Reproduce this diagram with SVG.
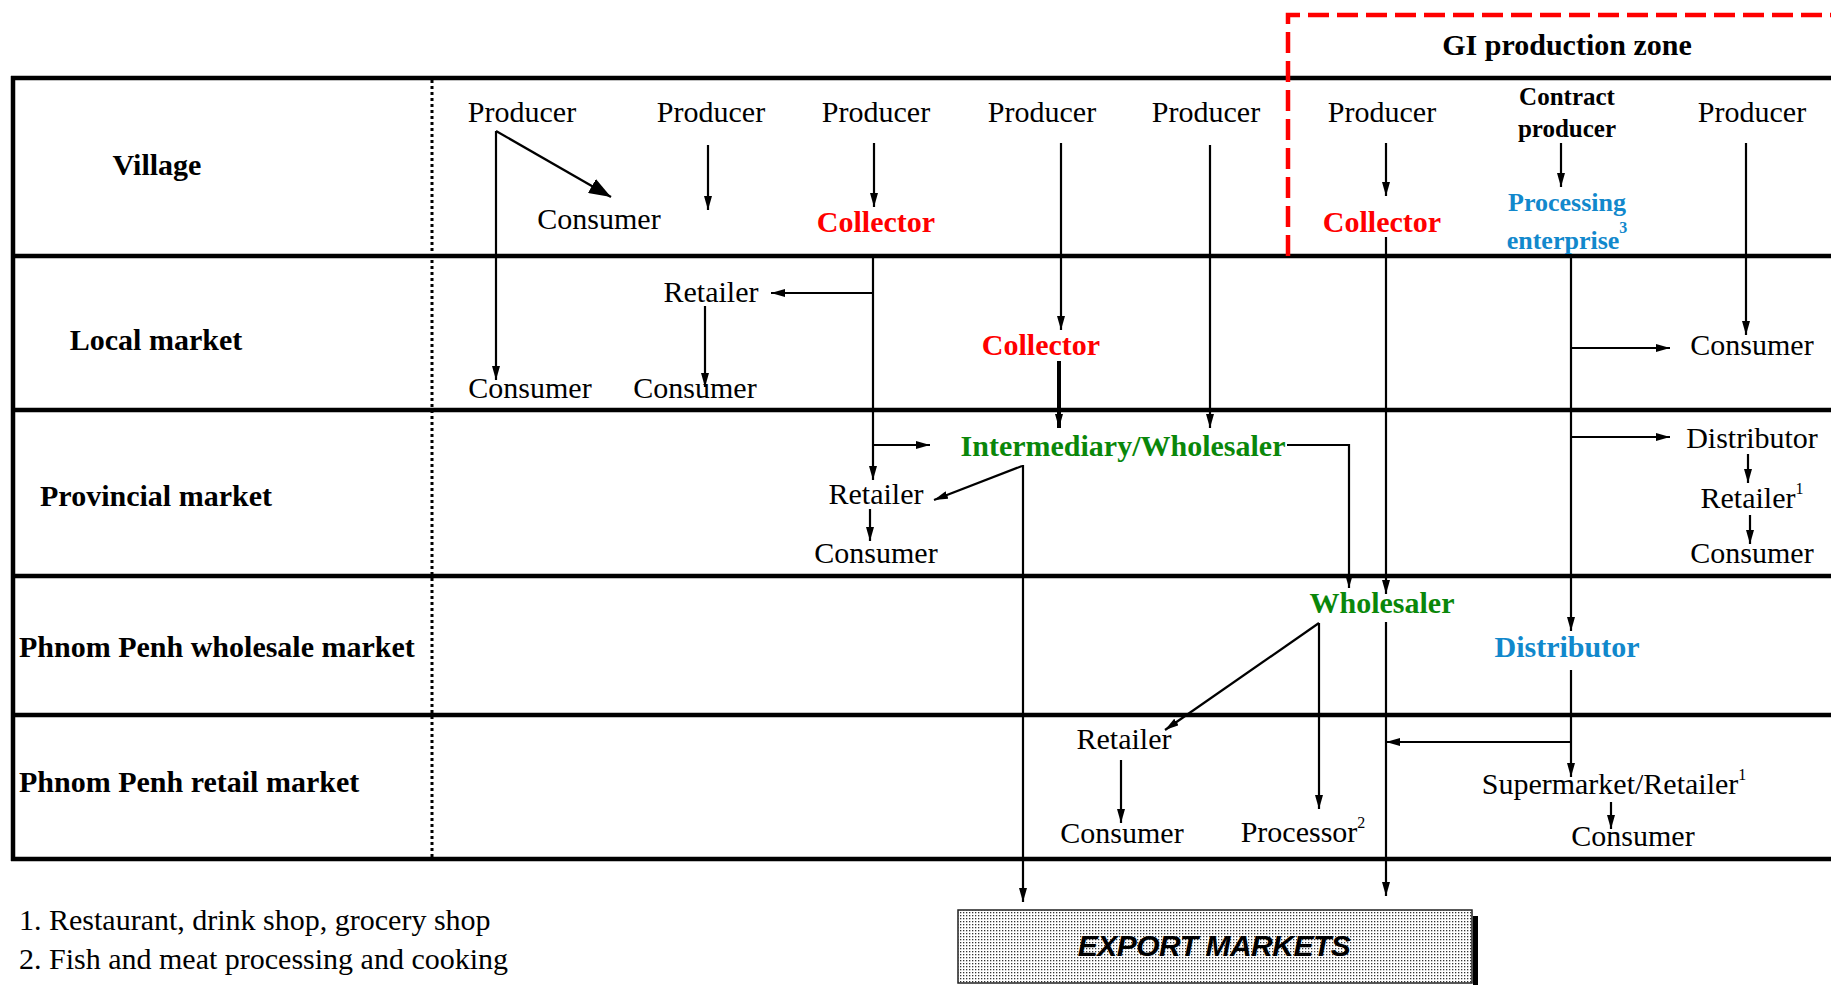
<svg xmlns="http://www.w3.org/2000/svg" width="1831" height="985" viewBox="0 0 1831 985">
<style>
text{font-family:"Liberation Serif","Times New Roman",serif;font-size:30px;fill:#000;text-anchor:middle}
.b{font-weight:bold}
.row{font-weight:bold;text-anchor:start}
.red{font-weight:bold;fill:#ff0000}
.grn{font-weight:bold;fill:#0a870a}
.blu{font-weight:bold;fill:#1188cc}
.sup{font-size:16px}
.frame{stroke:#000;stroke-width:4.5;fill:none}
.c{stroke:#000;stroke-width:2.2;fill:none}
.ca{stroke:#000;stroke-width:2.2;fill:none;marker-end:url(#ah)}
</style>
<defs>
<marker id="ah" markerUnits="userSpaceOnUse" markerWidth="14" markerHeight="8" refX="14" refY="4" orient="auto"><path d="M0,0 L14,4 L0,8 z" fill="#000"/></marker>
<marker id="big" markerUnits="userSpaceOnUse" markerWidth="22" markerHeight="16" refX="22" refY="8" orient="auto"><path d="M0,0 L22,8 L0,16 z" fill="#000"/></marker>
<pattern id="dots" width="3" height="3" patternUnits="userSpaceOnUse"><rect width="3" height="3" fill="#fff"/><rect width="1.3" height="1.3" fill="#333"/></pattern>
</defs>
<rect width="1831" height="985" fill="#fff"/>
<g id="frame">
<path class="frame" d="M11,78 H1831 M11,256 H1831 M11,410 H1831 M11,576 H1831 M11,715 H1831 M11,859 H1831 M13,76 V861"/>
<path d="M432,80 V857" stroke="#000" stroke-width="3" stroke-dasharray="3 3"/>
<path d="M1288,256 V15 H1831" stroke="#ff0000" stroke-width="4.5" fill="none" stroke-dasharray="21 8"/>
<text class="b" x="1567" y="55">GI production zone</text>
</g>
<g id="row-labels">
<text id="lbl-village" class="b" x="157" y="175">Village</text>
<text id="lbl-local" class="b" x="156" y="350">Local market</text>
<text id="lbl-prov" class="b" x="156" y="506">Provincial market</text>
<text id="lbl-ppw" class="row" x="19" y="657">Phnom Penh wholesale market</text>
<text id="lbl-ppr" class="row" x="19" y="792">Phnom Penh retail market</text>
</g>
<g id="connectors">
<path d="M496,131 L611,197" class="c" marker-end="url(#big)"/>
<path d="M496,131 V380" class="ca"/>
<path d="M708,145 V210" class="ca"/>
<path d="M874,143 V207" class="ca"/>
<path d="M1061,143 V330" class="ca"/>
<path d="M1210,145 V428" class="ca"/>
<path d="M1386,143 V196" class="ca"/>
<path d="M1561,143 V187" class="ca"/>
<path d="M1746,143 V335" class="ca"/>
<path d="M873,256 V480" class="ca"/>
<path d="M873,293 H771" class="ca"/>
<path d="M873,445 H930" class="ca"/>
<path d="M705,306 V387" class="ca"/>
<path d="M1059,361 V428" stroke="#000" stroke-width="4" fill="none" marker-end="url(#ah)"/>
<path d="M1386,237 V594" class="ca"/>
<path d="M1386,622 V896" class="ca"/>
<path d="M1571,258 V631" class="ca"/>
<path d="M1571,348 H1670" class="ca"/>
<path d="M1571,437 H1670" class="ca"/>
<path d="M1571,670 V777" class="ca"/>
<path d="M1571,742 H1386" class="ca"/>
<path d="M1611,802 V829" class="ca"/>
<path d="M1748,454 V483" class="ca"/>
<path d="M1750,515 V544" class="ca"/>
<path d="M1287,445 H1349 V588" class="ca"/>
<path d="M1022,466 L934,500" class="ca"/>
<path d="M1023,465 V902" class="ca"/>
<path d="M870,509 V541" class="ca"/>
<path d="M1319,623 L1165,730" class="ca"/>
<path d="M1319,623 V809" class="ca"/>
<path d="M1121,760 V823" class="ca"/>
</g>
<g id="village-nodes">
<text id="producer-1" x="522" y="122">Producer</text>
<text id="producer-2" x="711" y="122">Producer</text>
<text id="producer-3" x="876" y="122">Producer</text>
<text id="producer-4" x="1042" y="122">Producer</text>
<text id="producer-5" x="1206" y="122">Producer</text>
<text id="producer-6" x="1382" y="122">Producer</text>
<g id="contract-producer"><text class="b" x="1567" y="105" font-size="25" style="font-size:25px">Contract</text><text class="b" x="1567" y="137" style="font-size:25px">producer</text></g>
<text id="producer-8" x="1752" y="122">Producer</text>
<text id="consumer-v" x="599" y="229">Consumer</text>
<text id="collector-v1" class="red" x="876" y="232">Collector</text>
<text id="collector-v2" class="red" x="1382" y="232">Collector</text>
<g id="processing-enterprise"><text class="blu" x="1567" y="211" style="font-size:26px">Processing</text><text class="blu" x="1567" y="249" style="font-size:26px">enterprise<tspan class="sup" dy="-16">3</tspan></text></g>
</g>
<g id="local-nodes">
<text id="retailer-l" x="711" y="302">Retailer</text>
<text id="consumer-l1" x="530" y="398">Consumer</text>
<text id="consumer-l2" x="695" y="398">Consumer</text>
<text id="collector-l" class="red" x="1041" y="355">Collector</text>
<text id="consumer-l3" x="1752" y="355">Consumer</text>
</g>
<g id="provincial-nodes">
<text id="intermediary" class="grn" x="1123" y="456">Intermediary/Wholesaler</text>
<text id="retailer-p" x="876" y="504">Retailer</text>
<text id="consumer-p" x="876" y="563">Consumer</text>
<text id="distributor-p" x="1752" y="448">Distributor</text>
<text id="retailer-p2" x="1752" y="508">Retailer<tspan class="sup" dy="-14">1</tspan></text>
<text id="consumer-p2" x="1752" y="563">Consumer</text>
</g>
<g id="wholesale-nodes">
<text id="wholesaler" class="grn" x="1382" y="613">Wholesaler</text>
<text id="distributor-w" class="blu" x="1567" y="657">Distributor</text>
</g>
<g id="retail-nodes">
<text id="retailer-r" x="1124" y="749">Retailer</text>
<text id="consumer-r" x="1122" y="843">Consumer</text>
<text id="processor" x="1303" y="842">Processor<tspan class="sup" dy="-14">2</tspan></text>
<text id="supermarket" x="1614" y="794">Supermarket/Retailer<tspan class="sup" dy="-14">1</tspan></text>
<text id="consumer-r2" x="1633" y="846">Consumer</text>
</g>
<g id="export-markets">
<rect x="1473" y="916" width="5" height="69" fill="#000"/>
<rect x="958" y="910" width="514" height="73" fill="url(#dots)" stroke="#222" stroke-width="1.5"/>
<text x="1214" y="956" style="font-family:'Liberation Sans',Arial,sans-serif;font-weight:bold;font-style:italic;letter-spacing:-0.5px">EXPORT MARKETS</text>
</g>
<g id="footnotes">
<text x="19" y="930" style="text-anchor:start">1. Restaurant, drink shop, grocery shop</text>
<text x="19" y="969" style="text-anchor:start">2. Fish and meat processing and cooking</text>
</g>
</svg>
